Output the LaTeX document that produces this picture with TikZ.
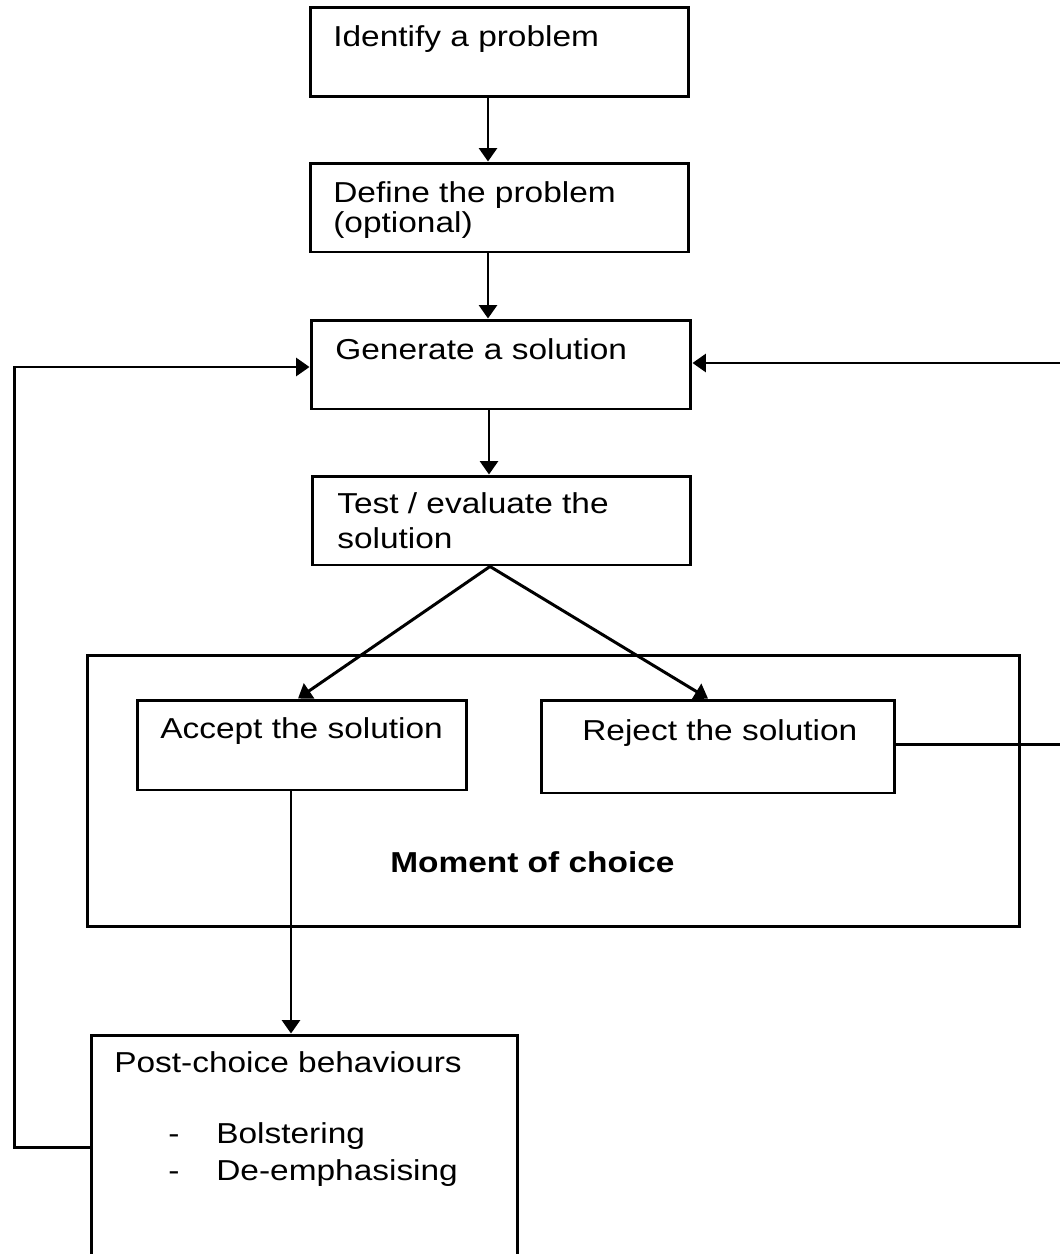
\documentclass[tikz,border=0pt]{standalone}
\usepackage{fontspec}
\setmainfont[FakeStretch=1.16]{Liberation Sans}
\usetikzlibrary{arrows.meta,calc}
\tikzset{
  box/.style={draw=black, line width=1.7pt, inner sep=0pt, fill=none},
  txt/.style={anchor=base west, inner sep=0pt, font=\fontsize{16.4}{19}\selectfont},
  arr/.style={line width=1.7pt, -{Triangle[length=0.27cm,width=0.36cm]}},
  conn/.style={line width=1.7pt}
}
\begin{document}
\begin{tikzpicture}[x=0.02cm,y=-0.02cm]
\useasboundingbox[fill=white] (0,0) rectangle (1059,1254);
% boxes
\node[box, minimum width=7.58cm, minimum height=1.80cm] (ident) at (499.5,52) {};
\node[box, minimum width=7.58cm, minimum height=1.78cm] (define) at (499.5,207.5) {};
\node[box, minimum width=7.60cm, minimum height=1.78cm] (gen) at (501,364.5) {};
\node[box, minimum width=7.58cm, minimum height=1.78cm] (test) at (501.5,520.5) {};
\node[box, minimum width=18.66cm, minimum height=5.44cm] (moment) at (553.5,791) {};
\node[box, minimum width=6.60cm, minimum height=1.80cm] (accept) at (302,745) {};
\node[box, minimum width=7.08cm, minimum height=1.86cm] (reject) at (718,746.5) {};
\node[box, minimum width=8.54cm, minimum height=5.30cm] (post) at (304.5,1167.5) {};
% texts
\node[txt] (t1) at (333,46) {Identify a problem};
\node[txt] (t2a) at (333,202) {Define the problem};
\node[txt] (t2b) at (333,232) {(optional)};
\node[txt] (t3) at (335,359) {Generate a solution};
\node[txt] (t4a) at (337,513) {Test / evaluate the};
\node[txt] (t4b) at (337,548) {solution};
\node[txt] (t5) at (160,738) {Accept the solution};
\node[txt] (t6) at (582,740) {Reject the solution};
\node[txt, font=\fontsize{16.4}{19}\selectfont\bfseries] (t7) at (390,872) {Moment of choice};
\node[txt] (t8) at (114,1072) {Post-choice behaviours};
\node[txt] (d1) at (168,1143) {-};
\node[txt] (t9) at (216,1143) {Bolstering};
\node[txt] (d2) at (168,1180) {-};
\node[txt] (t10) at (216,1180) {De-emphasising};
% connector end points
\coordinate (a1) at ($(ident.south)+(-11.5,0)$);
\coordinate (a2) at ($(define.south)+(-11.5,0)$);
\coordinate (a3) at ($(gen.south)+(-12,0)$);
\coordinate (a4) at ($(test.south)+(-11.5,0)$);
\coordinate (a5) at ($(accept.south)+(-11,0)$);
% connectors
\draw[arr] (a1) -- (a1 |- define.north);
\draw[arr] (a2) -- (a2 |- gen.north);
\draw[arr] (a3) -- (a3 |- test.north);
\draw[arr] (a4) -- ($(accept.north)+(-4,0)$);
\draw[arr] (a4) -- ($(reject.north)+(-10,0)$);
\draw[arr] (a5) -- (a5 |- post.north);
\draw[arr] ($(reject.east)+(0,-2.5)$) -- ++(205,0) |- ($(gen.east)+(0,-1.5)$);
\draw[arr] ($(post.west)+(0,-20.5)$) -- ++(-75,0) |- ($(gen.west)+(0,2.5)$);
\end{tikzpicture}
\end{document}
